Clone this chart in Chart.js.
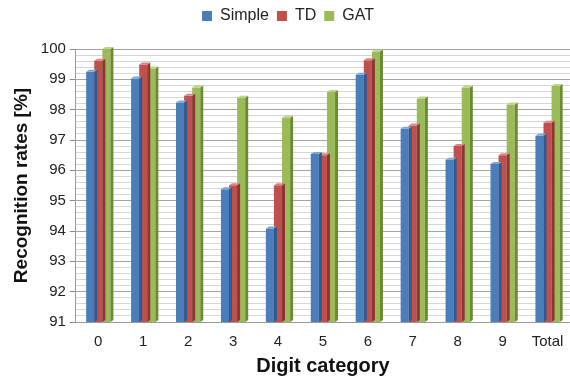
<!DOCTYPE html>
<html>
<head>
<meta charset="utf-8">
<script src="https://cdn.jsdelivr.net/npm/chart.js@4.4.1/dist/chart.umd.min.js"></script>
<style>
  html, body { margin: 0; padding: 0; background: #fff; }
  #wrap { width: 570px; height: 381px; position: relative; }
</style>
</head>
<body>
<div id="wrap"><canvas id="chart"></canvas></div>
<script>
// Recognition rates per digit class for the three methods
const categories = ['0', '1', '2', '3', '4', '5', '6', '7', '8', '9', 'Total'];
const simpleRates = [99.25, 99.03, 98.24, 95.38, 94.08, 96.54, 99.15, 97.37, 96.35, 96.21, 97.14];
const tdRates     = [99.61, 99.49, 98.46, 95.51, 95.51, 96.50, 99.63, 97.48, 96.80, 96.50, 97.57];
const gatRates    = [100.0, 99.36, 98.73, 98.39, 97.73, 98.58, 99.92, 98.37, 98.73, 98.17, 98.78];
const yMin = 91, yMax = 100, yStep = 0.2;

const isWhole = v => Math.abs(v - Math.round(v)) < 1e-6;

// Extra room between the legend and the plot
const legendGap = {
  id: 'legendGap',
  beforeInit(chart) {
    const fit = chart.legend.fit;
    chart.legend.fit = function () {
      fit.call(this);
      this.height += 15;
    };
  }
};

// Darker side face and top cap to give each bar a bit of depth
const bar3d = {
  id: 'bar3d',
  afterDatasetDraw(chart, args) {
    const meta = args.meta;
    const ds = chart.data.datasets[args.index];
    const ctx = chart.ctx;
    const area = chart.chartArea;
    const d = 3, r = 2;
    ctx.save();
    meta.data.forEach(el => {
      const p = el.getProps(['x', 'y', 'base', 'width'], true);
      const base = Math.min(p.base, area.bottom);
      const right = p.x + p.width / 2;
      const left = p.x - p.width / 2;
      ctx.fillStyle = ds.sideColor;
      ctx.beginPath();
      ctx.moveTo(right, p.y);
      ctx.lineTo(right + d, p.y - r);
      ctx.lineTo(right + d, base - r);
      ctx.lineTo(right, base);
      ctx.closePath();
      ctx.fill();
      ctx.fillStyle = ds.capColor;
      ctx.beginPath();
      ctx.moveTo(left, p.y);
      ctx.lineTo(left + d, p.y - r);
      ctx.lineTo(right + d, p.y - r);
      ctx.lineTo(right, p.y);
      ctx.closePath();
      ctx.fill();
    });
    ctx.restore();
  }
};

new Chart(document.getElementById('chart'), {
  type: 'bar',
  data: {
    labels: categories,
    datasets: [
      { label: 'Simple', data: simpleRates, backgroundColor: '#4a7ebb', sideColor: '#2f5a8f', capColor: '#7ea3d2' },
      { label: 'TD', data: tdRates, backgroundColor: '#c0504d', sideColor: '#8c3533', capColor: '#d88482' },
      { label: 'GAT', data: gatRates, backgroundColor: '#9bbb59', sideColor: '#6a8a34', capColor: '#bcd48a' }
    ]
  },
  options: {
    responsive: true,
    maintainAspectRatio: false,
    animation: false,
    layout: { padding: { left: 6, right: 0, top: 0, bottom: 0 } },
    datasets: { bar: { categoryPercentage: 0.54, barPercentage: 1.0, borderWidth: 0 } },
    plugins: {
      legend: {
        position: 'top',
        labels: {
          boxWidth: 10, boxHeight: 10, padding: 8,
          color: '#222', font: { family: 'Liberation Sans', size: 16 }
        }
      },
      tooltip: { enabled: false }
    },
    scales: {
      x: {
        grid: { display: false },
        border: { display: true, color: '#9a9a9a' },
        ticks: { color: '#222', font: { family: 'Liberation Sans', size: 15 }, padding: 3 },
        title: {
          display: true, text: 'Digit category', color: '#111',
          font: { family: 'Liberation Sans', size: 20, weight: 'bold' }, padding: { top: 0, bottom: 3 }
        }
      },
      y: {
        min: yMin, max: yMax,
        ticks: {
          stepSize: yStep, autoSkip: false,
          color: '#222', font: { family: 'Liberation Sans', size: 15 }, padding: 4,
          callback: v => isWhole(v) ? String(Math.round(v)) : ''
        },
        grid: {
          color: c => isWhole(c.tick.value) ? '#a3a3a3' : '#d6d6d6',
          tickColor: c => isWhole(c.tick.value) ? '#8a8a8a' : 'rgba(0,0,0,0)',
          tickLength: 6
        },
        border: { display: true, color: '#9a9a9a' },
        title: {
          display: true, text: 'Recognition rates [%]', color: '#111',
          font: { family: 'Liberation Sans', size: 19, weight: 'bold' }, padding: { bottom: 4 }
        }
      }
    }
  },
  plugins: [legendGap, bar3d]
});
</script>
</body>
</html>
